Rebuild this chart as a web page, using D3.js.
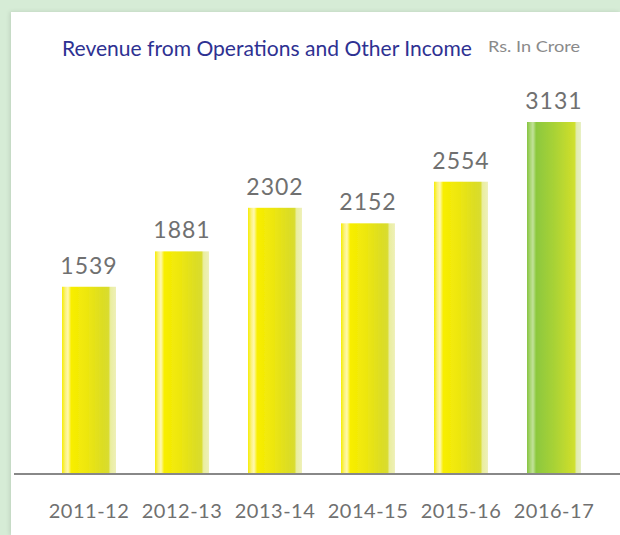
<!DOCTYPE html>
<html>
<head>
<meta charset="utf-8">
<script src="https://cdn.jsdelivr.net/npm/d3@7"></script>
<style>
  html, body { margin: 0; padding: 0; background: #d6ecd6; }
  svg { display: block; }
  text { font-family: Lato, "Open Sans", sans-serif; }
</style>
</head>
<body>
<div id="chart"></div>
<script>
const years = ['2011-12', '2012-13', '2013-14', '2014-15', '2015-16', '2016-17'];
const revenue = [1539, 1881, 2302, 2152, 2554, 3131];
const title = 'Revenue from Operations and Other Income';
const unit = 'Rs. In Crore';

const width = 620;
const height = 535;
const baseY = 474;

const svg = d3.select('#chart')
              .append('svg')
              .attr('width', width)
              .attr('height', height);

// white panel on green page
svg.append('rect')
   .attr('x', 11).attr('y', 12)
   .attr('width', width - 11).attr('height', height - 12)
   .attr('fill', '#fff')
   .style('filter', 'drop-shadow(-1px 0px 2px rgba(0,0,0,0.12))');

const defs = svg.append('defs');
function barGrad(id, stops) {
    const g = defs.append('linearGradient')
                  .attr('id', id)
                  .attr('x1', '0%').attr('x2', '100%')
                  .attr('y1', '0%').attr('y2', '0%');
    stops.forEach(s => g.append('stop').attr('offset', s[0]).attr('stop-color', s[1]));
}
barGrad('yellow', [
    ['0%', '#f6ec00'], ['6%', '#fbf27a'], ['11%', '#fff8b0'], ['17%', '#f8ee00'],
    ['45%', '#eee70e'], ['75%', '#dcdd24'], ['86%', '#d9dc30'],
    ['90%', '#eaeea0'], ['100%', '#eef0b8']
]);
barGrad('green', [
    ['0%', '#86c440'], ['6%', '#a8d670'], ['11%', '#c2e29a'], ['17%', '#8cc83e'],
    ['50%', '#a8d236'], ['80%', '#c8dc2c'], ['88%', '#cfe030'],
    ['92%', '#e2ecb0'], ['100%', '#e6efc0']
]);
const blur = defs.append('filter').attr('id', 'soft')
                 .attr('x', '-5%').attr('y', '-5%').attr('width', '110%').attr('height', '110%');
blur.append('feGaussianBlur').attr('stdDeviation', 0.7);

const x = d3.scaleBand()
            .domain(years)
            .range([23, 620])
            .padding(0.42);

const y = d3.scaleLinear()
            .domain([-270, 3131])
            .range([baseY, 122]);

// title
svg.append('text')
   .attr('x', 62).attr('y', 56)
   .attr('fill', '#2e3192')
   .attr('font-size', 22)
   .attr('textLength', 410)
   .attr('lengthAdjust', 'spacingAndGlyphs')
   .text(title);

svg.append('text')
   .attr('x', 488).attr('y', 52)
   .attr('fill', '#8a8a8a')
   .attr('font-size', 16)
   .attr('textLength', 92)
   .attr('lengthAdjust', 'spacingAndGlyphs')
   .text(unit);

// bars
svg.selectAll('rect.bar')
   .data(revenue)
   .enter()
   .append('rect')
   .attr('class', 'bar')
   .attr('x', (d, i) => x(years[i]))
   .attr('y', d => y(d))
   .attr('width', x.bandwidth())
   .attr('height', d => baseY - y(d))
   .attr('fill', (d, i) => i === years.length - 1 ? 'url(#green)' : 'url(#yellow)')
   .attr('filter', 'url(#soft)');

// value labels
svg.selectAll('text.val')
   .data(revenue)
   .enter()
   .append('text')
   .attr('class', 'val')
   .attr('x', (d, i) => x(years[i]) + x.bandwidth() / 2)
   .attr('y', d => y(d) - 13)
   .attr('text-anchor', 'middle')
   .attr('fill', '#707070')
   .attr('font-size', 23)
   .attr('letter-spacing', 1)
   .text(d => d);

// x axis
const xAxis = d3.axisBottom(x).tickSize(0).tickPadding(0);
const gx = svg.append('g')
              .attr('transform', `translate(0,${baseY})`)
              .call(xAxis);
gx.select('.domain').remove();
gx.selectAll('text')
  .attr('y', 44)
  .attr('dy', 0)
  .attr('fill', '#707070')
  .attr('font-size', 20)
  .attr('letter-spacing', 0.5)
  .style('font-family', 'Lato, "Open Sans", sans-serif');

svg.append('line')
   .attr('x1', 14).attr('x2', width)
   .attr('y1', baseY).attr('y2', baseY)
   .attr('stroke', '#888')
   .attr('stroke-width', 2);
</script>
</body>
</html>
